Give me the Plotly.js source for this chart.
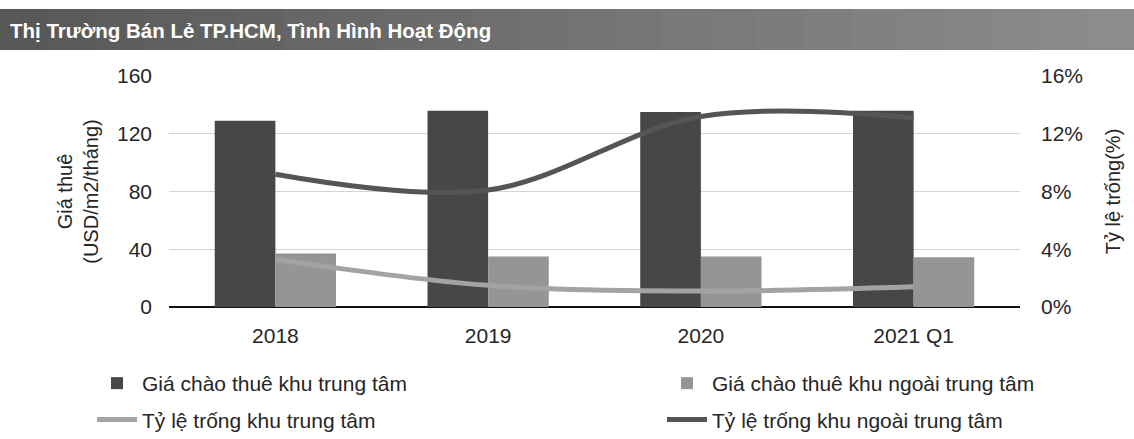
<!DOCTYPE html>
<html>
<head>
<meta charset="utf-8">
<script src="https://cdn.plot.ly/plotly-3.0.1.min.js"></script>
<style>
  html, body { margin: 0; padding: 0; background: #ffffff; }
  #chart { width: 1134px; height: 439px; }
</style>
</head>
<body>
<div id="chart"></div>
<script>
// ---- Data ----
const categories = ['2018', '2019', '2020', '2021 Q1'];
const giaTrungTam = [129, 136, 135, 136];        // Giá chào thuê khu trung tâm (USD/m2/tháng)
const giaNgoaiTrungTam = [37, 35, 35, 34.5];     // Giá chào thuê khu ngoài trung tâm
const tyLeTrungTam = [3.3, 1.5, 1.1, 1.4];       // Tỷ lệ trống khu trung tâm (%)
const tyLeNgoaiTrungTam = [9.2, 8.1, 13.2, 13.1];// Tỷ lệ trống khu ngoài trung tâm (%)

const chartTitle = 'Thị Trường Bán Lẻ TP.HCM, Tình Hình Hoạt Động';
const leftAxisTitle = 'Giá thuê<br>(USD/m2/tháng)';
const rightAxisTitle = 'Tỷ lệ trống(%)';
const seriesNames = [
  'Giá chào thuê khu trung tâm',
  'Giá chào thuê khu ngoài trung tâm',
  'Tỷ lệ trống khu trung tâm',
  'Tỷ lệ trống khu ngoài trung tâm'
];

const FONT = '"Liberation Sans", Arial, sans-serif';
const TXT = '#262626';

const traces = [
  { type: 'bar', name: seriesNames[0], x: categories, y: giaTrungTam,
    marker: { color: '#474747' }, yaxis: 'y', legend: 'legend', legendgroup: 'a' },
  { type: 'bar', name: seriesNames[1], x: categories, y: giaNgoaiTrungTam,
    marker: { color: '#959595' }, yaxis: 'y', legend: 'legend2', legendgroup: 'b' },
  { type: 'scatter', mode: 'lines', name: seriesNames[2], x: categories, y: tyLeTrungTam,
    line: { color: '#a3a3a3', width: 5, shape: 'spline', smoothing: 1 }, yaxis: 'y2',
    legend: 'legend', legendgroup: 'c' },
  { type: 'scatter', mode: 'lines', name: seriesNames[3], x: categories, y: tyLeNgoaiTrungTam,
    line: { color: '#555555', width: 5, shape: 'spline', smoothing: 1 }, yaxis: 'y2',
    legend: 'legend2', legendgroup: 'd' }
];

// fixed plot area and helpers converting pixels to paper coordinates
const W = 1134, H = 439, L = 169, R = 114, T = 76, B = 132;
const pw = W - L - R, ph = H - T - B;
const px = v => (v - L) / pw;
const py = v => (H - B - v) / ph;

// header band (gradient made of strips)
const shapes = [];
const nStrips = 24;
for (let i = 0; i < nStrips; i++) {
  const t = i / (nStrips - 1);
  const c = Math.round(88 + t * (140 - 88));
  shapes.push({
    type: 'rect', xref: 'paper', yref: 'paper', layer: 'below',
    x0: px(i * W / nStrips), x1: px((i + 1) * W / nStrips + 1),
    y0: py(50), y1: py(9),
    fillcolor: `rgb(${c},${c},${c})`, line: { width: 0 }
  });
}

const legendCommon = {
  orientation: 'v', xanchor: 'left', yanchor: 'top', itemwidth: 40,
  font: { family: FONT, size: 21, color: TXT }, traceorder: 'grouped',
  tracegroupgap: 6, bgcolor: 'rgba(0,0,0,0)', borderwidth: 0
};

const layout = {
  width: W, height: H,
  margin: { l: L, r: R, t: T, b: B, autoexpand: false },
  paper_bgcolor: '#ffffff', plot_bgcolor: '#ffffff',
  font: { family: FONT, color: TXT, size: 19 },
  barmode: 'group', bargap: 0.43, bargroupgap: 0,
  showlegend: true,
  legend: Object.assign({}, legendCommon, { x: px(92), y: py(363) }),
  legend2: Object.assign({}, legendCommon, { x: px(662), y: py(363) }),
  xaxis: {
    type: 'category', showline: false, ticks: '', showgrid: false, zeroline: false,
    tickfont: { family: FONT, size: 21, color: TXT }, ticklabelstandoff: 14,
    automargin: false
  },
  yaxis: {
    range: [0, 160], dtick: 40, tick0: 0, showgrid: true, gridcolor: '#d4d4d4', gridwidth: 1,
    zeroline: true, zerolinecolor: '#111111', zerolinewidth: 2, showline: false, ticks: '',
    tickfont: { family: FONT, size: 21, color: TXT }, ticklabelstandoff: 16,
    title: { text: leftAxisTitle, font: { family: FONT, size: 20, color: TXT }, standoff: 12 },
    automargin: false
  },
  yaxis2: {
    overlaying: 'y', side: 'right', range: [0, 16], dtick: 4, tick0: 0, ticksuffix: '%',
    showgrid: false, zeroline: false, showline: false, ticks: '',
    tickfont: { family: FONT, size: 21, color: TXT }, ticklabelstandoff: 20,
    title: { text: rightAxisTitle, font: { family: FONT, size: 20, color: TXT }, standoff: 23 },
    automargin: false
  },
  shapes: shapes,
  annotations: [{
    text: '<b>' + chartTitle + '</b>', xref: 'paper', yref: 'paper',
    x: px(8), y: py(30), xanchor: 'left', yanchor: 'middle', showarrow: false,
    font: { family: FONT, size: 20.5, color: '#ffffff' }
  }]
};

Plotly.newPlot('chart', traces, layout, { displayModeBar: false, staticPlot: true });
</script>
</body>
</html>
